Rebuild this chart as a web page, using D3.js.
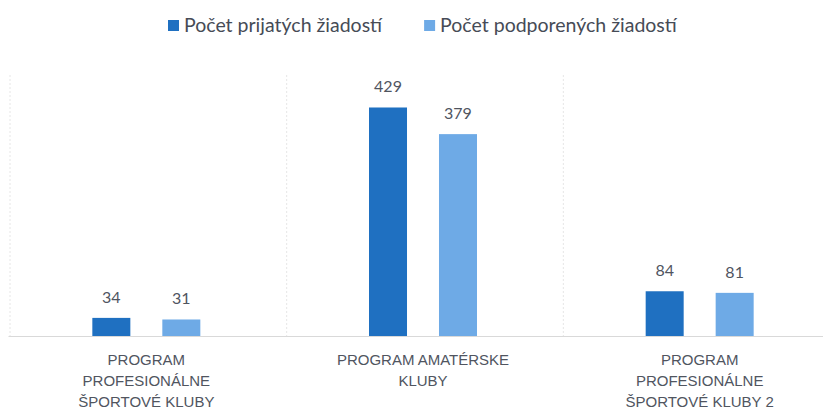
<!DOCTYPE html>
<html>
<head>
<meta charset="utf-8">
<script src="https://d3js.org/d3.v7.min.js"></script>
<style>
  body { margin:0; background:#fff; }
  svg { font-family: Lato, "Open Sans", sans-serif; }
  .axis path { stroke:#d9d9d9; }
  .axis text { fill:#50555f; font-size:15px; }
</style>
</head>
<body>
<script>
var categories = ["PROGRAM PROFESIONÁLNE ŠPORTOVÉ KLUBY", "PROGRAM AMATÉRSKE KLUBY", "PROGRAM PROFESIONÁLNE ŠPORTOVÉ KLUBY 2"];
var seriesNames = ["Počet prijatých žiadostí", "Počet podporených žiadostí"];
var received = [34, 429, 84];
var supported = [31, 379, 81];
var colors = ["#1f70c1", "#6eaae6"];

var width = 823, height = 412;
var margin = {left:8, right:-15, top:75, bottom:76};

var svg = d3.select("body").append("svg").attr("width", width).attr("height", height);

// Scales
var x0 = d3.scaleBand()
            .domain(categories)
            .range([margin.left, width - margin.right]);

var x1 = d3.scaleBand()
            .domain(seriesNames)
            .range([0, x0.bandwidth()])
            .paddingInner(0.457)
            .paddingOuter(1.205);

var y = d3.scaleLinear()
            .domain([0, 490])
            .range([height - margin.bottom, margin.top]);

// faint dividers between categories
var bounds = categories.map(function(c){ return x0(c); }).concat([x0(categories[2]) + x0.bandwidth()]);
svg.append("g").selectAll("line").data(bounds).enter().append("line")
    .attr("x1", function(d){ return d + 2; }).attr("x2", function(d){ return d + 2; })
    .attr("y1", y(490)).attr("y2", y(0))
    .attr("stroke", "#e6e6e6").attr("stroke-dasharray", "2,2");

// x axis
var xAxis = d3.axisBottom(x0).tickSize(0).tickPadding(18);
var gx = svg.append("g").attr("class", "axis x")
    .attr("transform", "translate(0," + y(0) + ")")
    .call(xAxis);
gx.selectAll(".tick text").call(wrap, 190);

function wrap(text, w) {
  text.each(function() {
    var t = d3.select(this), words = t.text().split(/\s+/), line = [], lines = [];
    t.text(null);
    var probe = t.append("tspan");
    words.forEach(function(word) {
      line.push(word);
      probe.text(line.join(" "));
      if (probe.node().getComputedTextLength() > w && line.length > 1) {
        line.pop();
        lines.push(line.join(" "));
        line = [word];
      }
    });
    lines.push(line.join(" "));
    probe.remove();
    lines.forEach(function(l, i) {
      t.append("tspan").attr("x", 0).attr("dy", i === 0 ? "0.71em" : "21px").text(l);
    });
  });
}

// bars
var groups = svg.append("g").selectAll("g").data(categories).enter().append("g")
    .attr("transform", function(d){ return "translate(" + x0(d) + ",0)"; });

var rows = function(d, i) {
  return [{s:seriesNames[0], v:received[i], c:colors[0]}, {s:seriesNames[1], v:supported[i], c:colors[1]}];
};

groups.selectAll("rect").data(rows).enter().append("rect")
    .attr("x", function(d){ return x1(d.s); })
    .attr("y", function(d){ return y(d.v); })
    .attr("width", x1.bandwidth())
    .attr("height", function(d){ return y(0) - y(d.v); })
    .attr("fill", function(d){ return d.c; });

groups.selectAll("text").data(rows).enter().append("text")
    .attr("x", function(d){ return x1(d.s) + x1.bandwidth() / 2; })
    .attr("y", function(d){ return y(d.v) - 15; })
    .attr("text-anchor", "middle")
    .attr("font-size", "16px")
    .attr("fill", "#50555f")
    .text(function(d){ return d.v; });

// legend
var legend = svg.append("g");
var lx = 168;
seriesNames.forEach(function(name, i) {
  legend.append("rect").attr("x", lx).attr("y", 20).attr("width", 11).attr("height", 11).attr("fill", colors[i]);
  var t = legend.append("text").attr("x", lx + 16).attr("y", 32)
      .attr("font-size", "19.5px").attr("fill", "#464b56").text(name);
  lx += 16 + t.node().getComputedTextLength() + 42;
});
</script>
</body>
</html>
